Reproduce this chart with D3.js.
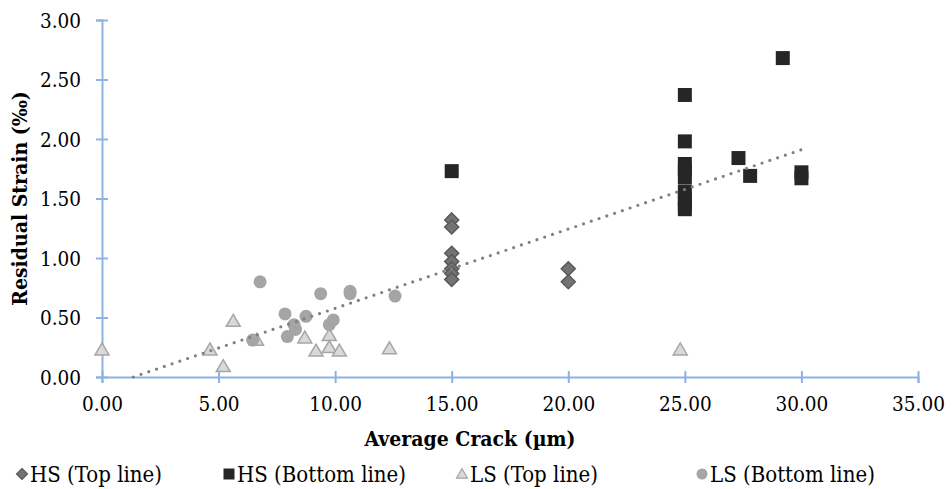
<!DOCTYPE html>
<html>
<head>
<meta charset="utf-8">
<script src="https://cdn.jsdelivr.net/npm/d3@7"></script>
<style>
    body { margin: 0; background: #fff; }
    #chart { width: 952px; height: 489px; }
    svg text { font-stretch: condensed; }
</style>
</head>
<body>
<div id="chart"></div>
<script>
// HS (Top line) - diamonds
const hsTopX = [15, 15, 15, 15, 15, 15, 15, 20, 20];
const hsTopY = [1.32, 1.26, 1.04, 0.97, 0.91, 0.87, 0.82, 0.91, 0.80];

// HS (Bottom line) - squares
const hsBotX = [15, 25, 25, 25, 25, 25, 25, 25, 25, 25, 27.3, 27.8, 29.2, 30, 30];
const hsBotY = [1.73, 2.37, 1.98, 1.79, 1.74, 1.68, 1.56, 1.50, 1.45, 1.41, 1.84, 1.69, 2.68, 1.72, 1.67];

// LS (Top line) - triangles
const lsTopX = [0, 4.63, 5.63, 5.2, 6.63, 8.7, 9.18, 9.75, 9.75, 10.18, 12.33, 24.8];
const lsTopY = [0.23, 0.23, 0.47, 0.09, 0.31, 0.33, 0.22, 0.35, 0.25, 0.22, 0.24, 0.23];

// LS (Bottom line) - circles
const lsBotX = [6.78, 6.46, 7.85, 8.24, 8.3, 7.95, 8.75, 9.38, 9.92, 9.75, 10.64, 10.64, 12.57];
const lsBotY = [0.80, 0.31, 0.53, 0.44, 0.40, 0.34, 0.51, 0.70, 0.48, 0.44, 0.72, 0.70, 0.68];

// linear trendline (start / end)
const trendX = [1.34, 30.0];
const trendY = [0, 1.91];

const xTicks = [0, 5, 10, 15, 20, 25, 30, 35];
const yTicks = [0, 0.5, 1, 1.5, 2, 2.5, 3];

const seriesNames = ["HS (Top line)", "HS (Bottom line)", "LS (Top line)", "LS (Bottom line)"];

const FONT = "'DejaVu Serif Condensed', 'DejaVu Serif', serif";

class CrackScatter {
    constructor(parentElement) {
        this.parentElement = parentElement;
        this.initVis();
    }

    initVis() {
        let vis = this;
        vis.width = 952;
        vis.height = 489;
        vis.axisColor = "#8db3e2";

        vis.svg = d3.select("#" + vis.parentElement).append("svg")
            .attr("width", vis.width)
            .attr("height", vis.height)
            .attr("font-family", FONT);

        vis.x = d3.scaleLinear().domain([0, 35]).range([102, 918]);
        vis.y = d3.scaleLinear().domain([0, 3]).range([377, 20]);

        vis.series = [
            {name: seriesNames[0], xs: hsTopX, ys: hsTopY, shape: "diamond", fill: "#737373", stroke: "#595959"},
            {name: seriesNames[1], xs: hsBotX, ys: hsBotY, shape: "square", fill: "#262626", stroke: "none"},
            {name: seriesNames[2], xs: lsTopX, ys: lsTopY, shape: "triangle", fill: "#d9d9d9", stroke: "#a6a6a6"},
            {name: seriesNames[3], xs: lsBotX, ys: lsBotY, shape: "circle", fill: "#a5a5a5", stroke: "none"}
        ];

        vis.drawAxes();
        vis.drawPoints();
        vis.drawTrend();
        vis.drawLegend();
    }

    // marker path centred on 0,0; s = full size
    shapePath(shape, s) {
        let h = s / 2;
        if (shape === "diamond") return `M0,${-h}L${h},0L0,${h}L${-h},0Z`;
        if (shape === "square") return `M${-h},${-h}H${h}V${h}H${-h}Z`;
        if (shape === "triangle") return `M0,${-h * 0.95}L${h},${h * 0.75}L${-h},${h * 0.75}Z`;
        return d3.arc()({innerRadius: 0, outerRadius: h, startAngle: 0, endAngle: 2 * Math.PI});
    }

    drawAxes() {
        let vis = this;
        let tickLen = 6;

        let yAxis = d3.axisLeft(vis.y)
            .tickValues(yTicks)
            .tickSize(tickLen)
            .tickPadding(15)
            .tickFormat(d3.format(".2f"));
        let gy = vis.svg.append("g")
            .attr("transform", `translate(${vis.x(0)},0)`)
            .call(yAxis);

        let xAxis = d3.axisBottom(vis.x)
            .tickValues(xTicks)
            .tickSize(tickLen)
            .tickPadding(13)
            .tickFormat(d3.format(".2f"));
        let gx = vis.svg.append("g")
            .attr("transform", `translate(0,${vis.y(0)})`)
            .call(xAxis);

        // ticks cross the axis line
        gy.selectAll(".tick line").attr("x1", tickLen).attr("x2", -tickLen);
        gx.selectAll(".tick line").attr("y1", -tickLen).attr("y2", tickLen);

        [gx, gy].forEach(g => {
            g.attr("font-family", FONT).attr("font-size", 20.5);
            g.select(".domain").attr("stroke", vis.axisColor).attr("stroke-width", 2);
            g.selectAll(".tick line").attr("stroke", vis.axisColor).attr("stroke-width", 2);
            g.selectAll(".tick text").attr("fill", "#000");
        });
        gy.selectAll(".tick text").attr("dy", "0.36em");
        gx.selectAll(".tick text").attr("dy", "0.72em");

        vis.svg.append("text")
            .attr("x", 470)
            .attr("y", 446)
            .attr("text-anchor", "middle")
            .attr("font-size", 21)
            .attr("font-weight", "bold")
            .text("Average Crack (µm)");

        vis.svg.append("text")
            .attr("transform", `translate(27,${(vis.y(0) + vis.y(3)) / 2}) rotate(-90)`)
            .attr("text-anchor", "middle")
            .attr("font-size", 21)
            .attr("font-weight", "bold")
            .text("Residual Strain (‰)");
    }

    drawPoints() {
        let vis = this;
        vis.series.forEach(s => {
            let pts = s.xs.map((d, i) => ({x: d, y: s.ys[i]}));
            vis.svg.append("g")
                .selectAll("path")
                .data(pts)
                .enter()
                .append("path")
                .attr("d", vis.shapePath(s.shape, s.shape === "circle" ? 13 : 14))
                .attr("transform", d => `translate(${vis.x(d.x)},${vis.y(d.y)})`)
                .attr("fill", s.fill)
                .attr("stroke", s.stroke)
                .attr("stroke-width", 1.5);
        });
    }

    drawTrend() {
        let vis = this;
        let line = d3.line().x(d => vis.x(d[0])).y(d => vis.y(d[1]));
        vis.svg.append("path")
            .attr("d", line(trendX.map((d, i) => [d, trendY[i]])))
            .attr("fill", "none")
            .attr("stroke", "#808080")
            .attr("stroke-width", 3.2)
            .attr("stroke-linecap", "round")
            .attr("stroke-dasharray", "0 8.2");
    }

    drawLegend() {
        let vis = this;
        let legendX = [22, 229, 462, 702];
        let legend = vis.svg.append("g");
        vis.series.forEach((s, i) => {
            let g = legend.append("g").attr("transform", `translate(${legendX[i]},474)`);
            g.append("path")
                .attr("d", vis.shapePath(s.shape, 11))
                .attr("fill", s.fill)
                .attr("stroke", s.stroke)
                .attr("stroke-width", 1.2);
            g.append("text")
                .attr("x", 8)
                .attr("y", 8)
                .attr("font-size", 22)
                .text(s.name);
        });
    }
}

new CrackScatter("chart");
</script>
</body>
</html>
